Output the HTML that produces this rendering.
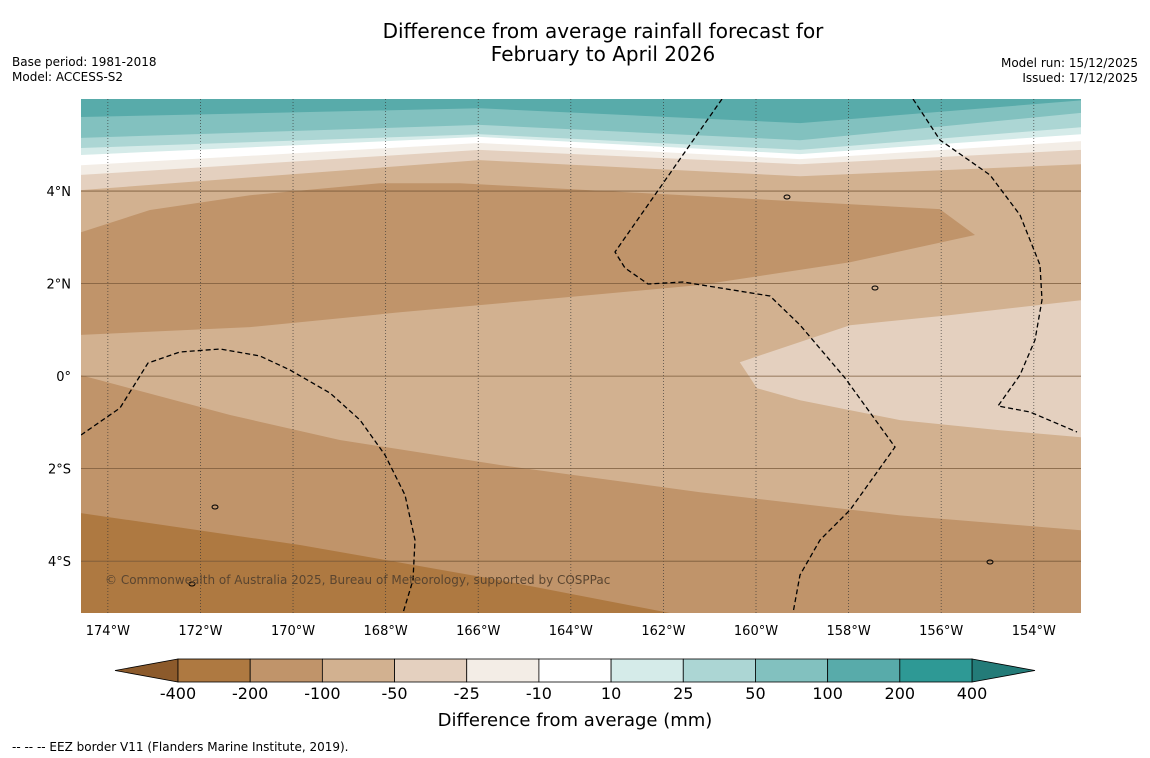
<!DOCTYPE html>
<html><head><meta charset="utf-8"><style>
body{margin:0;background:#fff;font-family:"DejaVu Sans","Liberation Sans",sans-serif}
svg{display:block;font-family:"DejaVu Sans","Liberation Sans",sans-serif}
</style></head><body>
<svg id="c" width="1150" height="758" xmlns="http://www.w3.org/2000/svg">
<text x="603" y="38" font-size="20" text-anchor="middle">Difference from average rainfall forecast for</text>
<text x="603" y="61" font-size="20" text-anchor="middle">February to April 2026</text>
<text x="12" y="66" font-size="12">Base period: 1981-2018</text>
<text x="12" y="81" font-size="12">Model: ACCESS-S2</text>
<text x="1138" y="67" font-size="12" text-anchor="end">Model run: 15/12/2025</text>
<text x="1138" y="82" font-size="12" text-anchor="end">Issued: 17/12/2025</text>
<defs><clipPath id="mc"><rect x="81" y="99" width="1000" height="514"/></clipPath></defs>
<g id="map" clip-path="url(#mc)"></g>
<g id="axes"></g>
<g id="cbar"></g>
<text x="575" y="726" font-size="18" text-anchor="middle">Difference from average (mm)</text>
<text x="12" y="751" font-size="12">--  --  -- EEZ border V11 (Flanders Marine Institute, 2019).</text>
</svg>
<script>
const NS="http://www.w3.org/2000/svg";
// Map extent
const lonMin=-174.58, lonMax=-152.98, latMin=-5.12, latMax=5.99;
const lonTicks=[-174,-172,-170,-168,-166,-164,-162,-160,-158,-156,-154];
const latTicks=[4,2,0,-2,-4];
const latTickLabels=["4°N","2°N","0°","2°S","4°S"];
// Colour classes
const levels=[-400,-200,-100,-50,-25,-10,10,25,50,100,200,400];
const levelLabels=["-400","-200","-100","-50","-25","-10","10","25","50","100","200","400"];
const classColors=["#ae7941","#c0946a","#d2b190","#e4d0bf","#f3ede6","#ffffff","#d5ebe9","#acd6d4","#82c1bf","#58abaa","#2e9995"];
// Top contour boundaries: lat at boundary lons
const topLons=[-174.58,-165.97,-159.05,-152.98];
const bNeg50=[4.02,4.67,4.32,4.58];
const bNeg25=[4.35,4.89,4.58,4.89];
const bNeg10=[4.56,5.04,4.69,5.08];
const b10=[4.78,5.17,4.80,5.23];
const b25=[4.93,5.23,4.89,5.38];
const b50=[5.15,5.43,5.10,5.69];
const b100=[5.60,5.79,5.47,5.96];
// Region polygons [lon,lat]
const upperDryBand=[[-174.58,3.11],[-173.09,3.59],[-170.93,3.91],[-168.13,4.17],[-166.40,4.17],[-156.03,3.61],[-155.27,3.05],[-157.97,2.46],[-161.21,1.97],[-164.24,1.69],[-167.69,1.38],[-170.93,1.06],[-174.58,0.89]];
const lowerTanEdge=[[-174.58,0.02],[-171.36,-0.84],[-168.99,-1.38],[-165.53,-1.92],[-161.21,-2.51],[-156.89,-3.01],[-152.98,-3.33]];
const eastLightPatch=[[-160.35,0.30],[-157.97,1.10],[-155.81,1.32],[-152.98,1.64],[-152.98,-1.32],[-154.73,-1.17],[-156.89,-0.95],[-159.05,-0.52],[-159.98,-0.26]];
const southDryPatch=[[-174.58,-2.96],[-169.85,-3.65],[-165.53,-4.41],[-161.86,-5.12],[-174.58,-5.12]];

const X0=81,X1=1081,Y0=99,Y1=613;
const xs=lon=>X0+(lon-lonMin)/(lonMax-lonMin)*(X1-X0);
const ys=lat=>Y0+(latMax-lat)/(latMax-latMin)*(Y1-Y0);
const map=document.getElementById('map');
function poly(pts,fill,name){
  const p=document.createElementNS(NS,'polygon');
  p.setAttribute('points',pts.map(d=>xs(d[0]).toFixed(1)+','+ys(d[1]).toFixed(1)).join(' '));
  p.setAttribute('fill',fill);
  
  
  map.appendChild(p);
}
poly([[lonMin,latMax],[lonMax,latMax],[lonMax,latMin],[lonMin,latMin]],classColors[1],'base-region');
poly([[lonMin,latMax+1],[lonMax,latMax+1]].concat(lowerTanEdge.slice().reverse()),classColors[2],'tan-region');
poly(upperDryBand,classColors[1],'upper-dry-band');
poly(eastLightPatch,classColors[3],'east-light-patch');
poly(southDryPatch,classColors[0],'south-dry-patch');
const tops=[[bNeg50,3],[bNeg25,4],[bNeg10,5],[b10,6],[b25,7],[b50,8],[b100,9]];
tops.forEach(([b,ci],i)=>{
  const pts=[[lonMin,latMax+1],[lonMax,latMax+1]];
  for(let k=topLons.length-1;k>=0;k--)pts.push([topLons[k],b[k]]);
  poly(pts,classColors[ci],'top-band-'+i);
});
lonTicks.forEach(l=>{
  const ln=document.createElementNS(NS,'line');
  ln.setAttribute('x1',xs(l));ln.setAttribute('x2',xs(l));ln.setAttribute('y1',Y0);ln.setAttribute('y2',Y1);
  ln.setAttribute('stroke','#333');ln.setAttribute('stroke-width','0.8');ln.setAttribute('stroke-dasharray','1,2');ln.setAttribute('opacity','0.8');
  
  
  map.appendChild(ln);
});
latTicks.forEach(l=>{
  const ln=document.createElementNS(NS,'line');
  ln.setAttribute('x1',X0);ln.setAttribute('x2',X1);ln.setAttribute('y1',ys(l));ln.setAttribute('y2',ys(l));
  ln.setAttribute('stroke','#7a5a3a');ln.setAttribute('stroke-width','0.8');
  
  
  map.appendChild(ln);
});
const eez=["M722,99 L615,252 L625,268 L648,284 L683,282 L770,296 L800,325 L845,378 L895,447 L875,475 L850,510 L820,540 L800,575 L793,613",
"M913,99 L940,140 L990,175 L1020,215 L1040,265 L1042,300 L1035,340 L1020,375 L998,406 L1030,412 L1077,432",
"M81,435 L120,408 L148,363 L180,352 L220,349 L260,356 L290,370 L330,393 L360,420 L385,455 L405,495 L415,540 L413,580 L403,613"];
eez.forEach((d,i)=>{
  const p=document.createElementNS(NS,'path');
  p.setAttribute('d',d);p.setAttribute('fill','none');p.setAttribute('stroke','#000');p.setAttribute('stroke-width','1.3');p.setAttribute('stroke-dasharray','5,3');
  
  
  map.appendChild(p);
});
[[787,197],[875,288],[215,507],[192,584],[990,562]].forEach(c=>{
  const e=document.createElementNS(NS,'ellipse');
  e.setAttribute('cx',c[0]);e.setAttribute('cy',c[1]);e.setAttribute('rx','3');e.setAttribute('ry','2');
  e.setAttribute('fill','none');e.setAttribute('stroke','#000');
  
  
  map.appendChild(e);
});
const cp=document.createElementNS(NS,'text');
cp.setAttribute('x','105');cp.setAttribute('y','584');cp.setAttribute('font-size','12');cp.setAttribute('fill','#5a4530');
cp.textContent='© Commonwealth of Australia 2025, Bureau of Meteorology, supported by COSPPac';


map.appendChild(cp);
const axes=document.getElementById('axes');
lonTicks.forEach(l=>{
  const t=document.createElementNS(NS,'text');
  t.setAttribute('x',xs(l));t.setAttribute('y','635');t.setAttribute('font-size','13');t.setAttribute('text-anchor','middle');
  t.textContent=Math.abs(l)+'°W';
  
  
  axes.appendChild(t);
});
latTicks.forEach((l,i)=>{
  const t=document.createElementNS(NS,'text');
  t.setAttribute('x','71');t.setAttribute('y',ys(l)+5);t.setAttribute('font-size','13');t.setAttribute('text-anchor','end');
  t.textContent=latTickLabels[i];
  
  
  axes.appendChild(t);
});
const cb=document.getElementById('cbar');
const cbL=178,cbR=972,cbT=659,cbB=682,w=(cbR-cbL)/classColors.length;
function cbEl(tag,attrs,name){const e=document.createElementNS(NS,tag);for(const k in attrs)e.setAttribute(k,attrs[k]);cb.appendChild(e);return e;}
cbEl('polygon',{points:`115,670.5 ${cbL},${cbT} ${cbL},${cbB}`,fill:'#8c5a2b',stroke:'#000','stroke-width':'0.8'},'colorbar-extend-low');
cbEl('polygon',{points:`1035,670.5 ${cbR},${cbT} ${cbR},${cbB}`,fill:'#237b78',stroke:'#000','stroke-width':'0.8'},'colorbar-extend-high');
classColors.forEach((c,i)=>{cbEl('rect',{x:cbL+i*w,y:cbT,width:w,height:cbB-cbT,fill:c,stroke:'#000','stroke-width':'0.8'},'colorbar-box');});
levelLabels.forEach((s,i)=>{const t=cbEl('text',{x:cbL+i*w,y:699,'font-size':'16','text-anchor':'middle'},'colorbar-tick-label');t.textContent=s;});
</script>
</body></html>
